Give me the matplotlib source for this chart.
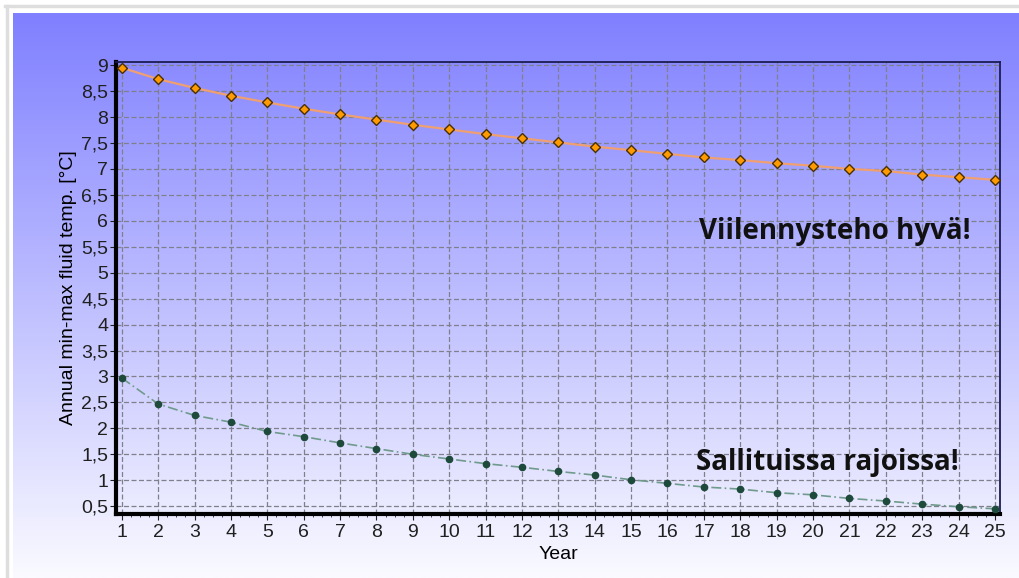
import numpy as np
import matplotlib
matplotlib.use("Agg")
import matplotlib.pyplot as plt
from matplotlib.lines import Line2D
from matplotlib.ticker import MultipleLocator, FuncFormatter

years = list(range(1, 26))
max_temp = [8.95, 8.73, 8.56, 8.41, 8.28, 8.16, 8.05, 7.95, 7.85, 7.76,
            7.67, 7.59, 7.51, 7.43, 7.36, 7.29, 7.22, 7.17, 7.11, 7.06,
            7.00, 6.96, 6.89, 6.84, 6.79]
min_temp = [2.97, 2.47, 2.25, 2.12, 1.94, 1.84, 1.72, 1.61, 1.50, 1.41,
            1.32, 1.25, 1.17, 1.10, 1.01, 0.94, 0.87, 0.83, 0.76, 0.72,
            0.65, 0.60, 0.54, 0.49, 0.45]

W, H = 1019, 578
fig = plt.figure(figsize=(W / 100, H / 100), dpi=100)
fig.patch.set_facecolor("white")

# gradient background panel
bg = fig.add_axes([13 / W, 0, 1 - 13 / W, 1 - 13 / H])
top = np.array([128, 128, 255]) / 255
bottom = np.array([250, 250, 255]) / 255
t = np.linspace(0, 1, 256)[:, None]
grad = top[None, :] * (1 - t) + bottom[None, :] * t
bg.imshow(grad[:, None, :], aspect="auto", extent=[0, 1, 0, 1])
bg.axis("off")

# light grey frame lines
fig.add_artist(Line2D([5 / W, 1], [1 - 6 / H, 1 - 6 / H], color="#dedede", lw=2.5))
fig.add_artist(Line2D([7 / W, 7 / W], [0, 1 - 6 / H], color="#dedede", lw=2.5))

ax = fig.add_axes([116 / W, 1 - 514 / H, (1000 - 116) / W, (514 - 62) / H])
ax.set_facecolor("none")

ax.plot(years, max_temp, color="#f0a070", lw=1.6, marker="D", ms=5.5,
        mfc="#ff9a00", mec="#4a3000", mew=1.0, zorder=3)
ax.plot(years, min_temp, color="#6f9a8c", lw=1.2, ls=(0, (6, 2, 1, 2)),
        marker="o", ms=4.5, mfc="#1d4a3a", mec="#1d4a3a", zorder=3)

ax.set_xlim(0.84, 25.14)
ax.set_ylim(0.35, 9.06)
ax.xaxis.set_major_locator(MultipleLocator(1))
ax.xaxis.set_minor_locator(MultipleLocator(0.25))
ax.yaxis.set_major_locator(MultipleLocator(0.5))
ax.yaxis.set_major_formatter(FuncFormatter(lambda v, p: f"{v:g}".replace(".", ",")))

ax.grid(True, which="major", color="#80808c", ls=(0, (4, 2)), lw=0.9)
ax.tick_params(axis="both", which="major", labelsize=14, length=4,
               colors="#202020", labelcolor="#202020")
ax.tick_params(axis="y", which="major", pad=1.5)
ax.tick_params(axis="x", which="major", pad=3)
ax.tick_params(axis="x", which="minor", length=2.5, color="#202020")

for side in ("left", "bottom"):
    ax.spines[side].set_linewidth(3)
    ax.spines[side].set_color("black")
for side in ("top", "right"):
    ax.spines[side].set_linewidth(1.3)
    ax.spines[side].set_color("#1c1c50")

for lab in ax.get_xticklabels() + ax.get_yticklabels():
    lab.set_family("Liberation Sans")

ax.set_xlabel("Year", fontsize=14, family="Liberation Sans", labelpad=4)
ax.set_ylabel("Annual min-max fluid temp. [°C]", fontsize=14,
              family="Liberation Sans", labelpad=3)

ax.text(20.6, 5.8, "Viilennysteho hyvä!", fontsize=20, fontweight="bold",
        family="Open Sans", ha="center", va="center", color="#111111")
ax.text(20.4, 1.35, "Sallituissa rajoissa!", fontsize=20, fontweight="bold",
        family="Open Sans", ha="center", va="center", color="#111111")

fig.savefig("out.png", dpi=100)
